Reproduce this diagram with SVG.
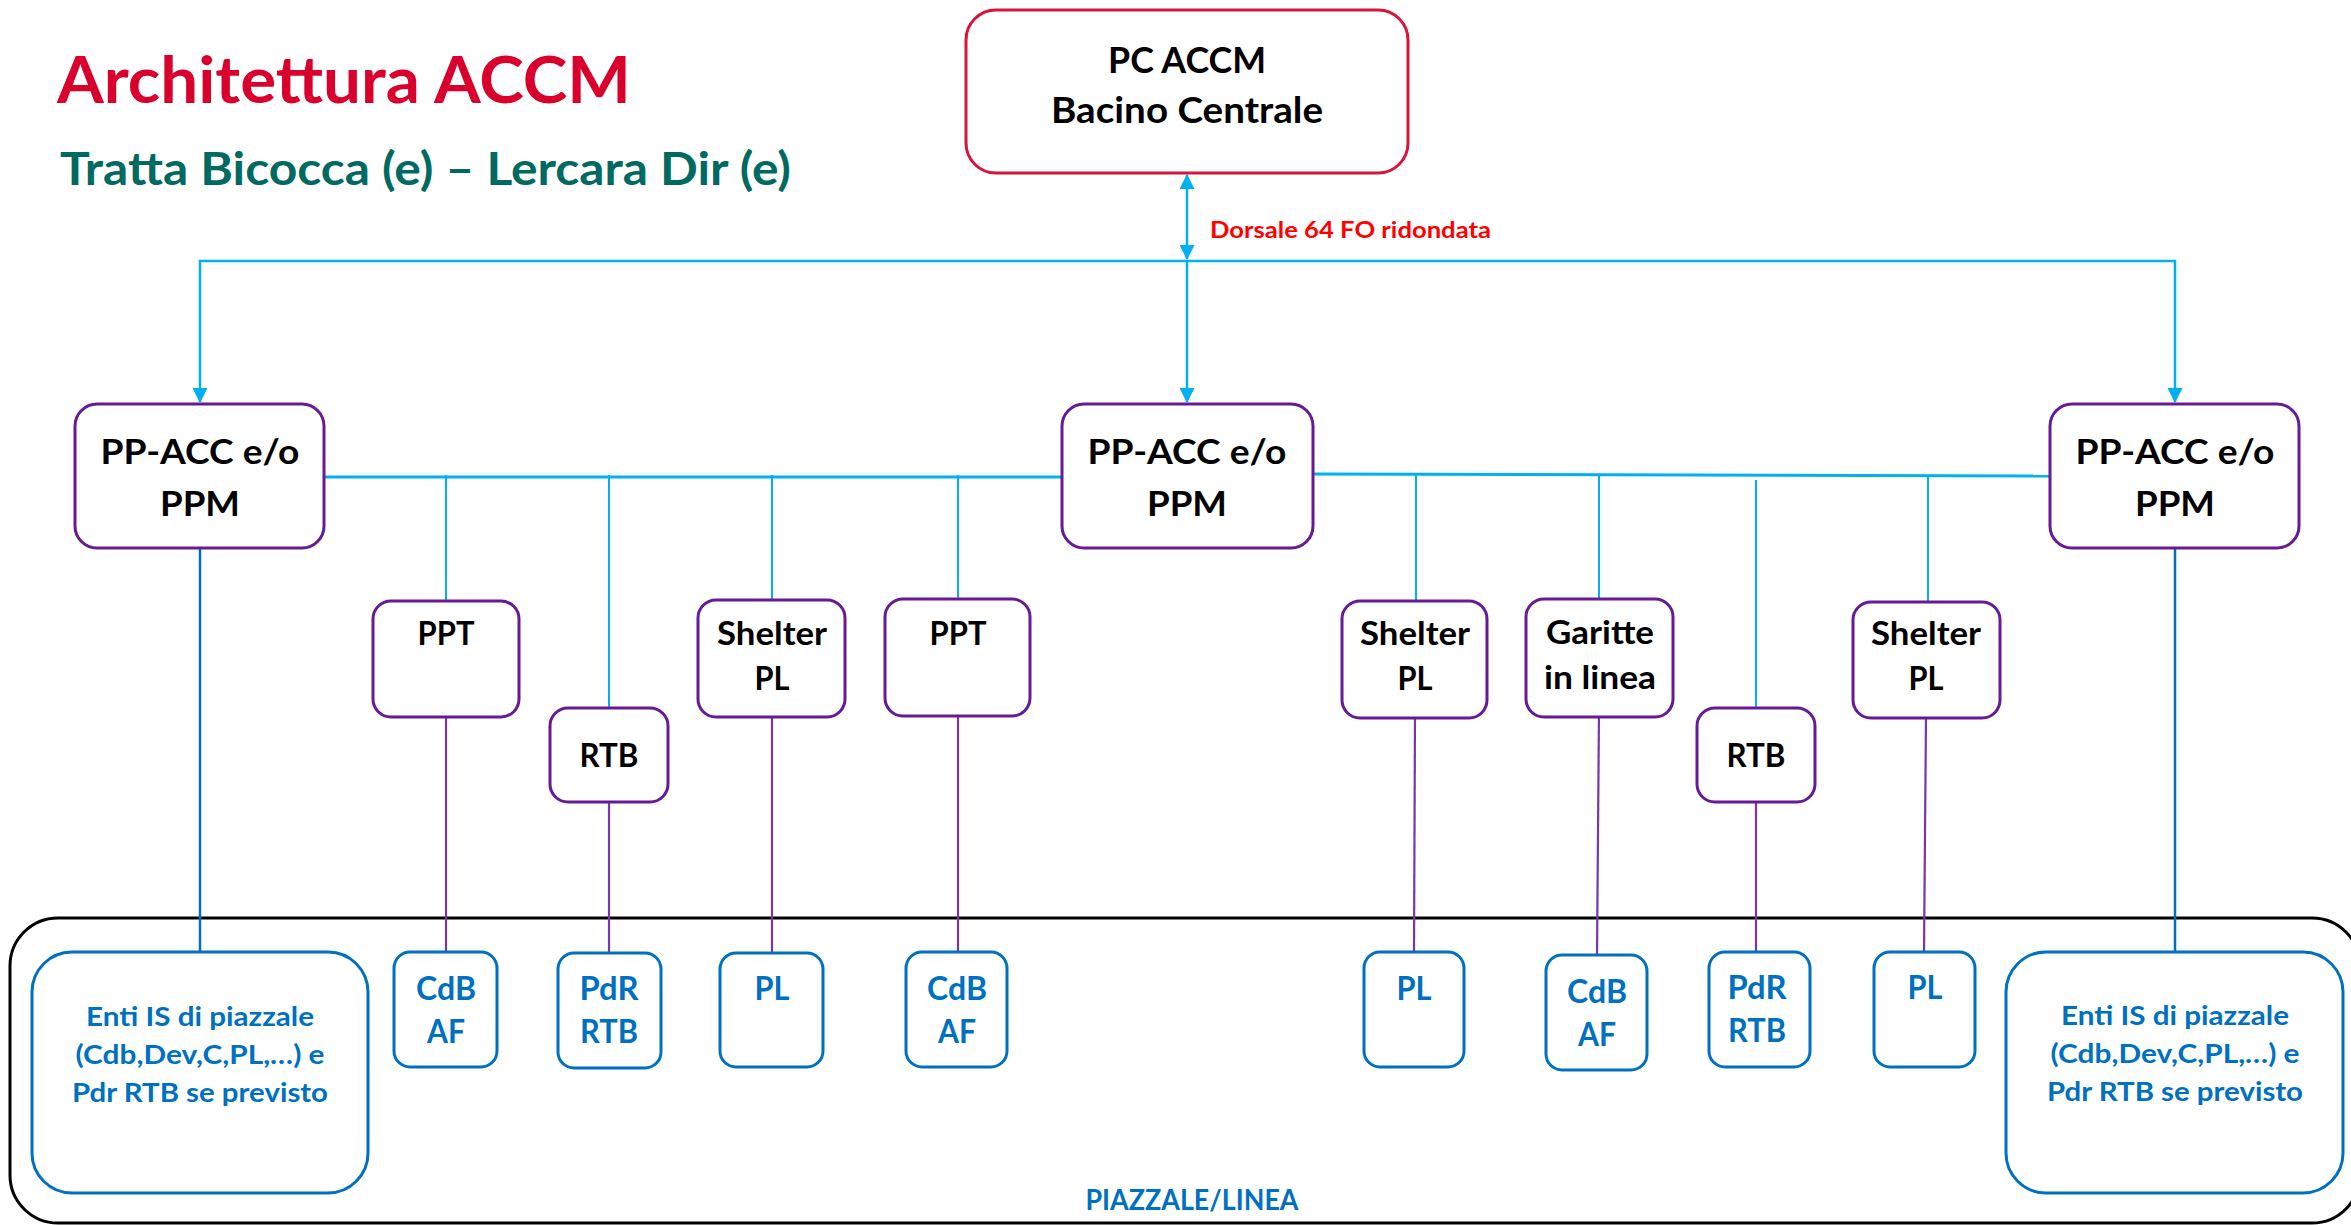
<svg xmlns="http://www.w3.org/2000/svg" width="2351" height="1225" viewBox="0 0 2351 1225">
  <style>
    text { font-family: Lato, "Open Sans", "Liberation Sans", sans-serif; font-weight: bold; }
    .t { text-anchor: middle; }
    .pc { fill: #fff; stroke: #D8143A; stroke-width: 3; }
    .pp { fill: #fff; stroke: #661A96; stroke-width: 3; }
    .bb { fill: #fff; stroke: #0070C0; stroke-width: 3; }
    .blk { fill: #000; }
    .bt { fill: #0070C0; }
    .cy { stroke: #00B0F0; fill: none; }
    .pu { stroke: #7B35AA; stroke-width: 2.2; fill: none; }
    .bl { stroke: #0070C0; stroke-width: 2.5; fill: none; }
  </style>
  <defs>
    <marker id="ah" markerUnits="userSpaceOnUse" markerWidth="16" markerHeight="15" refX="15" refY="8" orient="auto-start-reverse" viewBox="0 0 16 16">
      <path d="M0,0 L16,8 L0,16 Z" fill="#00B0F0"/>
    </marker>
  </defs>

  <!-- Title -->
  <text x="57" y="103" font-size="65" fill="#D9002E" textLength="574" lengthAdjust="spacingAndGlyphs">Architettura ACCM</text>
  <text x="60" y="185" font-size="46" fill="#006A62" textLength="731" lengthAdjust="spacingAndGlyphs">Tratta Bicocca (e) – Lercara Dir (e)</text>

  <!-- Outer area -->
  <g id="piazzale-area">
    <rect x="10" y="918" width="2350" height="305" rx="48" ry="48" fill="none" stroke="#000" stroke-width="3"/>
    <text class="t bt" x="1192" y="1210" font-size="28" textLength="213" lengthAdjust="spacingAndGlyphs">PIAZZALE/LINEA</text>
  </g>

  <!-- Connectors -->
  <g id="connectors">
    <line class="cy" x1="1187" y1="175" x2="1187" y2="259" stroke-width="2.5" marker-start="url(#ah)" marker-end="url(#ah)"/>
    <polyline class="cy" points="200,402 200,261 2175,261 2175,402" stroke-width="2.5" marker-start="url(#ah)" marker-end="url(#ah)"/>
    <line class="cy" x1="1187" y1="261" x2="1187" y2="402" stroke-width="2.5" marker-end="url(#ah)"/>

    <line class="cy" x1="324" y1="477" x2="1062" y2="477" stroke-width="3"/>
    <line class="cy" x1="1313" y1="474" x2="2050" y2="476" stroke-width="3"/>

    <line class="cy" x1="446" y1="475" x2="446" y2="601" stroke-width="2"/>
    <line class="cy" x1="609" y1="475" x2="609" y2="708" stroke-width="2"/>
    <line class="cy" x1="772" y1="475" x2="772" y2="600" stroke-width="2"/>
    <line class="cy" x1="958" y1="475" x2="958" y2="599" stroke-width="2"/>
    <line class="cy" x1="1416" y1="474" x2="1416" y2="601" stroke-width="2"/>
    <line class="cy" x1="1599" y1="474" x2="1599" y2="599" stroke-width="2"/>
    <line class="cy" x1="1756" y1="480" x2="1756" y2="708" stroke-width="2"/>
    <line class="cy" x1="1928" y1="475" x2="1928" y2="602" stroke-width="2"/>

    <line class="pu" x1="446" y1="717" x2="446" y2="952"/>
    <line class="pu" x1="609" y1="802" x2="609" y2="953"/>
    <line class="pu" x1="772" y1="711" x2="772" y2="953"/>
    <line class="pu" x1="958" y1="716" x2="958" y2="952"/>
    <line class="pu" x1="1415" y1="712" x2="1414" y2="954"/>
    <line class="pu" x1="1599" y1="710" x2="1597" y2="956"/>
    <line class="pu" x1="1756" y1="802" x2="1756" y2="954"/>
    <line class="pu" x1="1926" y1="717" x2="1924" y2="953"/>

    <line class="bl" x1="200" y1="548" x2="200" y2="952"/>
    <line class="bl" x1="2175" y1="548" x2="2175" y2="952"/>

    <text x="1210" y="238" font-size="23" fill="#FF0000" textLength="281" lengthAdjust="spacingAndGlyphs">Dorsale 64 FO ridondata</text>
  </g>

  <!-- PC ACCM -->
  <g id="pc-accm">
    <rect class="pc" x="966" y="10" width="442" height="163" rx="30"/>
    <text class="t blk" x="1187" y="73" font-size="36" textLength="158" lengthAdjust="spacingAndGlyphs">PC ACCM</text>
    <text class="t blk" x="1187" y="123" font-size="36" textLength="272" lengthAdjust="spacingAndGlyphs">Bacino Centrale</text>
  </g>

  <!-- PP-ACC boxes -->
  <g id="pp-left">
    <rect class="pp" x="75" y="404" width="249" height="144" rx="22"/>
    <text class="t blk" x="200" y="464" font-size="34" textLength="199" lengthAdjust="spacingAndGlyphs">PP-ACC e/o</text>
    <text class="t blk" x="200" y="516" font-size="34" textLength="80" lengthAdjust="spacingAndGlyphs">PPM</text>
  </g>
  <g id="pp-center">
    <rect class="pp" x="1062" y="404" width="251" height="144" rx="22"/>
    <text class="t blk" x="1187" y="464" font-size="34" textLength="199" lengthAdjust="spacingAndGlyphs">PP-ACC e/o</text>
    <text class="t blk" x="1187" y="516" font-size="34" textLength="80" lengthAdjust="spacingAndGlyphs">PPM</text>
  </g>
  <g id="pp-right">
    <rect class="pp" x="2050" y="404" width="249" height="144" rx="22"/>
    <text class="t blk" x="2175" y="464" font-size="34" textLength="199" lengthAdjust="spacingAndGlyphs">PP-ACC e/o</text>
    <text class="t blk" x="2175" y="516" font-size="34" textLength="80" lengthAdjust="spacingAndGlyphs">PPM</text>
  </g>

  <!-- Middle purple boxes -->
  <g id="ppt-1">
    <rect class="pp" x="373" y="601" width="146" height="116" rx="18"/>
    <text class="t blk" x="446" y="645" font-size="32" textLength="57" lengthAdjust="spacingAndGlyphs">PPT</text>
  </g>
  <g id="rtb-1">
    <rect class="pp" x="550" y="708" width="118" height="94" rx="18"/>
    <text class="t blk" x="609" y="767" font-size="32" textLength="59" lengthAdjust="spacingAndGlyphs">RTB</text>
  </g>
  <g id="shelter-1">
    <rect class="pp" x="698" y="600" width="147" height="117" rx="18"/>
    <text class="t blk" x="772" y="645" font-size="32" textLength="110" lengthAdjust="spacingAndGlyphs">Shelter</text>
    <text class="t blk" x="772" y="690" font-size="32" textLength="35" lengthAdjust="spacingAndGlyphs">PL</text>
  </g>
  <g id="ppt-2">
    <rect class="pp" x="885" y="599" width="145" height="117" rx="18"/>
    <text class="t blk" x="958" y="645" font-size="32" textLength="57" lengthAdjust="spacingAndGlyphs">PPT</text>
  </g>
  <g id="shelter-2">
    <rect class="pp" x="1342" y="601" width="145" height="117" rx="18"/>
    <text class="t blk" x="1415" y="645" font-size="32" textLength="110" lengthAdjust="spacingAndGlyphs">Shelter</text>
    <text class="t blk" x="1415" y="690" font-size="32" textLength="35" lengthAdjust="spacingAndGlyphs">PL</text>
  </g>
  <g id="garitte">
    <rect class="pp" x="1526" y="599" width="147" height="118" rx="18"/>
    <text class="t blk" x="1600" y="644" font-size="32" textLength="108" lengthAdjust="spacingAndGlyphs">Garitte</text>
    <text class="t blk" x="1600" y="689" font-size="32" textLength="112" lengthAdjust="spacingAndGlyphs">in linea</text>
  </g>
  <g id="rtb-2">
    <rect class="pp" x="1697" y="708" width="118" height="94" rx="18"/>
    <text class="t blk" x="1756" y="767" font-size="32" textLength="59" lengthAdjust="spacingAndGlyphs">RTB</text>
  </g>
  <g id="shelter-3">
    <rect class="pp" x="1853" y="602" width="147" height="116" rx="18"/>
    <text class="t blk" x="1926" y="645" font-size="32" textLength="110" lengthAdjust="spacingAndGlyphs">Shelter</text>
    <text class="t blk" x="1926" y="690" font-size="32" textLength="35" lengthAdjust="spacingAndGlyphs">PL</text>
  </g>

  <!-- Bottom blue boxes -->
  <g id="enti-left">
    <rect class="bb" x="32" y="952" width="336" height="241" rx="40"/>
    <text class="t bt" x="200" y="1026" font-size="27" textLength="228" lengthAdjust="spacingAndGlyphs">Enti IS di piazzale</text>
    <text class="t bt" x="200" y="1064" font-size="27" textLength="249" lengthAdjust="spacingAndGlyphs">(Cdb,Dev,C,PL,…) e</text>
    <text class="t bt" x="200" y="1102" font-size="27" textLength="256" lengthAdjust="spacingAndGlyphs">Pdr RTB se previsto</text>
  </g>
  <g id="cdb-af-1">
    <rect class="bb" x="394" y="952" width="103" height="115" rx="16"/>
    <text class="t bt" x="446" y="1000" font-size="32" textLength="60" lengthAdjust="spacingAndGlyphs">CdB</text>
    <text class="t bt" x="446" y="1043" font-size="32" textLength="38" lengthAdjust="spacingAndGlyphs">AF</text>
  </g>
  <g id="pdr-rtb-1">
    <rect class="bb" x="558" y="953" width="103" height="115" rx="16"/>
    <text class="t bt" x="609" y="1000" font-size="32" textLength="59" lengthAdjust="spacingAndGlyphs">PdR</text>
    <text class="t bt" x="609" y="1043" font-size="32" textLength="58" lengthAdjust="spacingAndGlyphs">RTB</text>
  </g>
  <g id="pl-1">
    <rect class="bb" x="720" y="953" width="103" height="114" rx="16"/>
    <text class="t bt" x="772" y="1000" font-size="32" textLength="35" lengthAdjust="spacingAndGlyphs">PL</text>
  </g>
  <g id="cdb-af-2">
    <rect class="bb" x="906" y="952" width="101" height="115" rx="16"/>
    <text class="t bt" x="957" y="1000" font-size="32" textLength="60" lengthAdjust="spacingAndGlyphs">CdB</text>
    <text class="t bt" x="957" y="1043" font-size="32" textLength="38" lengthAdjust="spacingAndGlyphs">AF</text>
  </g>
  <g id="pl-2">
    <rect class="bb" x="1364" y="952" width="100" height="115" rx="16"/>
    <text class="t bt" x="1414" y="1000" font-size="32" textLength="35" lengthAdjust="spacingAndGlyphs">PL</text>
  </g>
  <g id="cdb-af-3">
    <rect class="bb" x="1546" y="955" width="101" height="115" rx="16"/>
    <text class="t bt" x="1597" y="1003" font-size="32" textLength="60" lengthAdjust="spacingAndGlyphs">CdB</text>
    <text class="t bt" x="1597" y="1046" font-size="32" textLength="38" lengthAdjust="spacingAndGlyphs">AF</text>
  </g>
  <g id="pdr-rtb-2">
    <rect class="bb" x="1709" y="952" width="101" height="115" rx="16"/>
    <text class="t bt" x="1757" y="999" font-size="32" textLength="59" lengthAdjust="spacingAndGlyphs">PdR</text>
    <text class="t bt" x="1757" y="1042" font-size="32" textLength="58" lengthAdjust="spacingAndGlyphs">RTB</text>
  </g>
  <g id="pl-3">
    <rect class="bb" x="1874" y="952" width="101" height="115" rx="16"/>
    <text class="t bt" x="1925" y="999" font-size="32" textLength="35" lengthAdjust="spacingAndGlyphs">PL</text>
  </g>
  <g id="enti-right">
    <rect class="bb" x="2006" y="952" width="337" height="241" rx="40"/>
    <text class="t bt" x="2175" y="1025" font-size="27" textLength="228" lengthAdjust="spacingAndGlyphs">Enti IS di piazzale</text>
    <text class="t bt" x="2175" y="1063" font-size="27" textLength="249" lengthAdjust="spacingAndGlyphs">(Cdb,Dev,C,PL,…) e</text>
    <text class="t bt" x="2175" y="1101" font-size="27" textLength="256" lengthAdjust="spacingAndGlyphs">Pdr RTB se previsto</text>
  </g>
</svg>
